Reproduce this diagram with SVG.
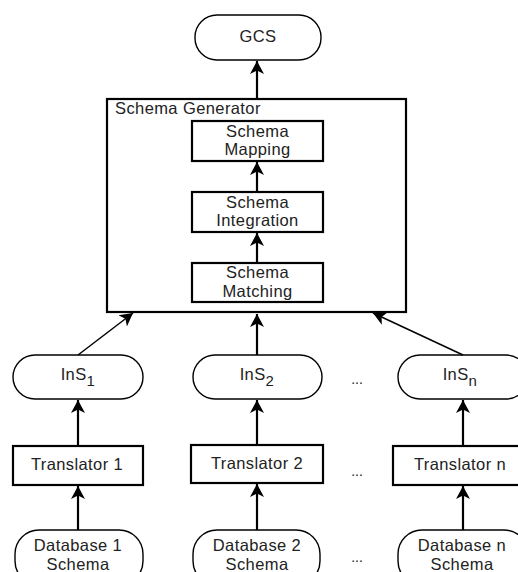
<svg xmlns="http://www.w3.org/2000/svg" width="518" height="572" viewBox="0 0 518 572">
<style>
.box{fill:#fff;stroke:#000;stroke-width:2.2}
.pill{fill:#fff;stroke:#000;stroke-width:1.4}
text{font-family:"Liberation Sans",Arial,sans-serif;font-size:16.5px;fill:#222;text-anchor:middle;letter-spacing:0.4px}
.lbl{text-anchor:start}
.sub{font-size:15px}
.c{fill:none;stroke:#000;stroke-width:2.2}
.d{fill:none;stroke:#000;stroke-width:1.5}
.dots{font-size:14px;letter-spacing:0}
</style>
<defs>
<marker id="ah" markerUnits="userSpaceOnUse" markerWidth="16" markerHeight="16" viewBox="0 0 16 16" refX="13" refY="8" orient="auto">
<path d="M0,1 L13,8 L0,15 L3.5,8 z" fill="#000"/>
</marker>
</defs>
<g id="gcs">
<rect class="pill" x="195" y="15" width="126" height="45" rx="22"/>
<text x="258" y="42">GCS</text>
</g>
<g id="schema-generator">
<rect class="box" x="107" y="99" width="299" height="213"/>
<text class="lbl" x="115" y="114">Schema Generator</text>
</g>
<g id="schema-mapping">
<rect class="box" x="192" y="121" width="131" height="40"/>
<text x="257.5" y="137">Schema</text>
<text x="257.5" y="155">Mapping</text>
</g>
<g id="schema-integration">
<rect class="box" x="192" y="192" width="131" height="40"/>
<text x="257.5" y="208">Schema</text>
<text x="257.5" y="226">Integration</text>
</g>
<g id="schema-matching">
<rect class="box" x="192" y="263" width="131" height="39"/>
<text x="257.5" y="278">Schema</text>
<text x="257.5" y="297">Matching</text>
</g>
<g id="ins1">
<rect class="pill" x="13" y="355" width="130" height="44" rx="22"/>
<text x="78" y="380">InS<tspan class="sub" dy="6">1</tspan></text>
</g>
<g id="ins2">
<rect class="pill" x="193" y="355" width="129" height="44" rx="22"/>
<text x="257" y="380">InS<tspan class="sub" dy="6">2</tspan></text>
</g>
<g id="insn">
<rect class="pill" x="398" y="355" width="130" height="44" rx="22"/>
<text x="460" y="380">InS<tspan class="sub" dy="6">n</tspan></text>
</g>
<g id="translator1">
<rect class="box" x="13" y="446" width="130" height="39"/>
<text x="77" y="470">Translator 1</text>
</g>
<g id="translator2">
<rect class="box" x="191" y="445" width="132" height="38"/>
<text x="257" y="469">Translator 2</text>
</g>
<g id="translatorn">
<rect class="box" x="393" y="446" width="130" height="39"/>
<text x="460" y="470">Translator n</text>
</g>
<g id="db1">
<rect class="pill" x="15" y="530" width="128" height="55" rx="24"/>
<text x="78" y="551">Database 1</text>
<text x="78" y="570">Schema</text>
</g>
<g id="db2">
<rect class="pill" x="193" y="530" width="127" height="55" rx="24"/>
<text x="257" y="551">Database 2</text>
<text x="257" y="570">Schema</text>
</g>
<g id="dbn">
<rect class="pill" x="398" y="530" width="130" height="55" rx="24"/>
<text x="462" y="551">Database n</text>
<text x="462" y="570">Schema</text>
</g>
<g id="ellipses">
<text class="dots" x="357" y="384">...</text>
<text class="dots" x="357" y="476">...</text>
<text class="dots" x="357" y="562">...</text>
</g>
<g id="connectors">
<line class="c" x1="257" y1="99" x2="257" y2="61" marker-end="url(#ah)"/>
<line class="c" x1="257" y1="192" x2="257" y2="162" marker-end="url(#ah)"/>
<line class="c" x1="257" y1="263" x2="257" y2="233" marker-end="url(#ah)"/>
<line class="d" x1="78" y1="355" x2="133" y2="313" marker-end="url(#ah)"/>
<line class="c" x1="257" y1="355" x2="257" y2="314" marker-end="url(#ah)"/>
<line class="d" x1="463" y1="355" x2="373" y2="313" marker-end="url(#ah)"/>
<line class="c" x1="78" y1="446" x2="78" y2="400" marker-end="url(#ah)"/>
<line class="c" x1="257" y1="445" x2="257" y2="400" marker-end="url(#ah)"/>
<line class="c" x1="463" y1="446" x2="463" y2="400" marker-end="url(#ah)"/>
<line class="c" x1="78" y1="530" x2="78" y2="486" marker-end="url(#ah)"/>
<line class="c" x1="257" y1="530" x2="257" y2="484" marker-end="url(#ah)"/>
<line class="c" x1="463" y1="530" x2="463" y2="486" marker-end="url(#ah)"/>
</g>
</svg>
